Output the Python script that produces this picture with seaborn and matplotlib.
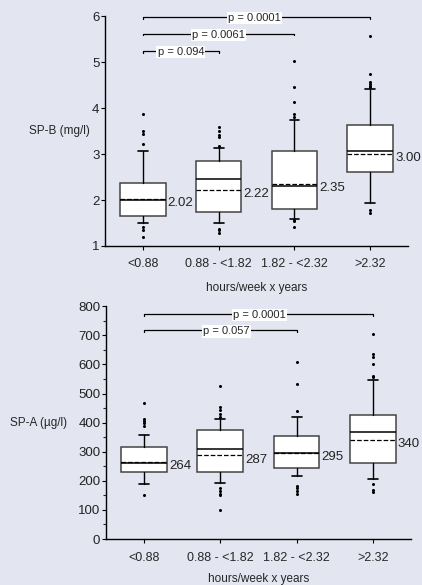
import matplotlib
matplotlib.use("Agg")
import matplotlib.pyplot as plt
import seaborn as sns
import pandas as pd

# Categories (hours/week x years)
groups = ["<0.88", "0.88 - <1.82", "1.82 - <2.32", ">2.32"]

# SP-B (mg/l) box statistics
spb_q1 = [1.65, 1.75, 1.81, 2.62]
spb_med = [2.00, 2.45, 2.30, 3.07]
spb_q3 = [2.38, 2.85, 3.07, 3.63]
spb_lo = [1.50, 1.50, 1.59, 1.94]
spb_hi = [3.07, 3.14, 3.74, 4.41]
spb_mean = [2.02, 2.22, 2.35, 3.00]
spb_out = [
    [3.87, 3.50, 3.43, 3.22, 1.42, 1.35, 1.20],
    [3.59, 3.51, 3.41, 3.37, 3.18, 1.38, 1.34, 1.29],
    [5.03, 4.46, 4.13, 3.88, 3.81, 1.57, 1.54, 1.42],
    [5.57, 4.75, 4.57, 4.52, 4.48, 4.45, 1.78, 1.71],
]
# (label, from group, to group, bracket level, label centre)
spb_p = [("p = 0.094", 0, 1, 5.24, 0.5), ("p = 0.0061", 0, 2, 5.62, 1.0),
         ("p = 0.0001", 0, 3, 5.98, 1.47)]

# SP-A (ug/l) box statistics
spa_q1 = [231, 229, 244, 260]
spa_med = [260, 311, 297, 366]
spa_q3 = [317, 376, 355, 427]
spa_lo = [190, 193, 217, 205]
spa_hi = [358, 412, 420, 546]
spa_mean = [264, 287, 295, 340]
spa_out = [
    [466, 414, 405, 397, 388, 152],
    [527, 454, 443, 428, 420, 177, 166, 154, 152, 100],
    [608, 532, 440, 183, 174, 165, 154],
    [706, 635, 626, 603, 561, 555, 189, 170, 162],
]
spa_p = [("p = 0.057", 0, 2, 717, 1.08), ("p = 0.0001", 0, 3, 772, 1.51)]

sns.set_theme(style="ticks")
plt.rcParams["font.family"] = ["Liberation Sans", "DejaVu Sans"]
plt.rcParams["font.size"] = 8
bg = "#E3E6F0"

fig = plt.figure(figsize=(4.22, 5.85), dpi=100, facecolor=bg)
ax1 = fig.add_axes([0.249, 0.5795, 0.718, 0.393])
ax2 = fig.add_axes([0.251, 0.0786, 0.723, 0.398])


def draw_panel(ax, q1, med, q3, lo, hi, mean, outs, pvals, ylim, ylabel, ylab_x,
               dy, step, minor, xpad):
    ax.set_facecolor(bg)
    stats = []
    for i in range(len(groups)):
        stats.append(dict(q1=q1[i], med=med[i], q3=q3[i], whislo=lo[i],
                          whishi=hi[i], mean=mean[i], fliers=[]))
    ax.bxp(stats, positions=range(len(groups)), widths=0.6, capwidths=0.13,
           patch_artist=True, showmeans=True, meanline=True,
           boxprops=dict(facecolor="white", edgecolor="#444444", linewidth=1.1),
           medianprops=dict(color="black", linewidth=1.1),
           meanprops=dict(color="black", linestyle="--", linewidth=0.9),
           whiskerprops=dict(color="black", linewidth=1.0),
           capprops=dict(color="black", linewidth=1.2),
           manage_ticks=False, zorder=3)

    df = pd.DataFrame([(groups[i], v) for i, vals in enumerate(outs) for v in vals],
                      columns=["group", "value"])
    sns.stripplot(data=df, x="group", y="value", order=groups, jitter=False,
                  color="black", size=2.2, linewidth=0, ax=ax, zorder=4)

    for i, m in enumerate(mean):
        ax.annotate(f"{m:g}" if m >= 100 else f"{m:.2f}", (i + 0.3, m),
                    xytext=(1.5, -3), textcoords="offset points",
                    va="center", ha="left", fontsize=9.5, color="#222222")

    for label, a, b, y, xc in pvals:
        ax.plot([a, a, b, b], [y - dy, y, y, y - dy], color="black", lw=0.9,
                clip_on=False, zorder=2)
        ax.text(xc, y - dy * 0.6, label, ha="center", va="center", fontsize=8,
                bbox=dict(facecolor="white", edgecolor="none", pad=0.8), zorder=5)

    ax.set_xlim(-0.5, 3.5)
    ax.set_ylim(*ylim)
    ax.set_yticks([ylim[0] + k * step for k in range(int((ylim[1] - ylim[0]) / step) + 1)])
    if minor:
        ax.set_yticks(range(ylim[0], ylim[1] + 1, minor), minor=True)
    ax.set_xticks(range(len(groups)))
    ax.set_xticklabels(groups)
    ax.tick_params(axis="x", labelsize=9, length=3, width=0.8, pad=6, color="black")
    ax.tick_params(axis="y", labelsize=9.5, length=3, width=0.8, pad=1, color="black",
                   labelcolor="#222222")
    ax.tick_params(axis="y", which="minor", length=2, width=0.8)
    for s in ["top", "right"]:
        ax.spines[s].set_visible(False)
    for s in ["left", "bottom"]:
        ax.spines[s].set_linewidth(1.0)
        ax.spines[s].set_color("black")
    ax.set_xlabel("hours/week x years", fontsize=8.5, labelpad=xpad)
    ax.set_ylabel("")
    ax.text(ylab_x, 0.5, ylabel, transform=ax.transAxes,
            ha="right", va="center", fontsize=8.5)


draw_panel(ax1, spb_q1, spb_med, spb_q3, spb_lo, spb_hi, spb_mean, spb_out,
           spb_p, (1, 6), "SP-B (mg/l)", -0.05, 0.04, 1, None, 8.5)
draw_panel(ax2, spa_q1, spa_med, spa_q3, spa_lo, spa_hi, spa_mean, spa_out,
           spa_p, (0, 800), "SP-A (µg/l)", -0.128, 6, 100, 50, 7)

fig.savefig("out.png", dpi=100, facecolor=bg)
